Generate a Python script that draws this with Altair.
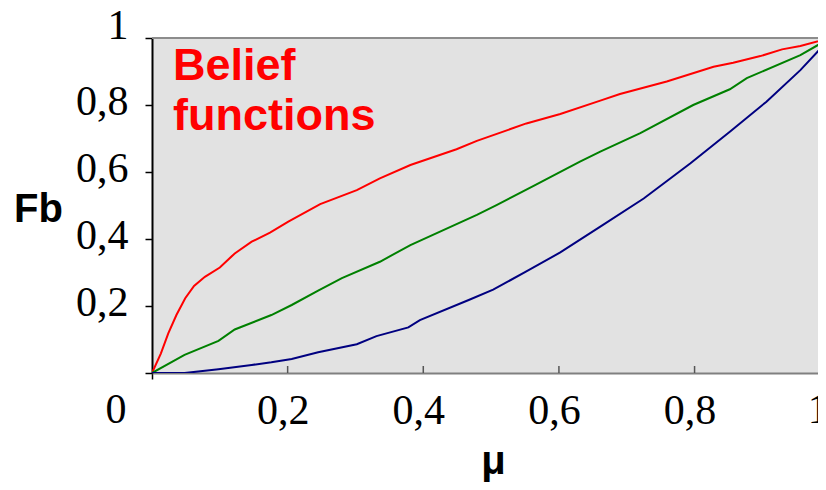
import altair as alt
import pandas as pd

# ---- data ----
mu_red = [0, 0.013, 0.024, 0.036, 0.049, 0.062, 0.078, 0.100, 0.122, 0.147, 0.174, 0.201,
          0.248, 0.302, 0.336, 0.381, 0.449, 0.479, 0.552, 0.602, 0.661, 0.690, 0.759,
          0.828, 0.857, 0.897, 0.929, 0.956, 1.0]
fb_red = [0, 0.058, 0.118, 0.173, 0.223, 0.260, 0.287, 0.315, 0.357, 0.392, 0.419, 0.452,
          0.504, 0.546, 0.581, 0.621, 0.668, 0.693, 0.745, 0.773, 0.813, 0.833, 0.870,
          0.914, 0.926, 0.946, 0.966, 0.976, 1.0]

mu_green = [0, 0.048, 0.098, 0.122, 0.176, 0.206, 0.245, 0.280, 0.336, 0.381, 0.479, 0.508,
            0.562, 0.631, 0.661, 0.720, 0.798, 0.852, 0.877, 0.956, 1.0]
fb_green = [0, 0.054, 0.096, 0.130, 0.173, 0.203, 0.246, 0.283, 0.332, 0.382, 0.472, 0.501,
            0.558, 0.631, 0.661, 0.716, 0.800, 0.847, 0.880, 0.949, 1.0]

mu_blue = [0, 0.048, 0.098, 0.147, 0.176, 0.206, 0.245, 0.302, 0.331, 0.378, 0.395, 0.467,
           0.503, 0.552, 0.602, 0.661, 0.725, 0.794, 0.852, 0.906, 0.956, 1.0]
fb_blue = [0, 0, 0.011, 0.024, 0.032, 0.042, 0.062, 0.086, 0.110, 0.136, 0.158, 0.218,
           0.249, 0.303, 0.360, 0.437, 0.521, 0.626, 0.720, 0.810, 0.904, 1.0]

series_names = ["red", "green", "blue"]
series_colors = ["#ff0000", "#008000", "#000080"]

y_ticks = [0, 0.1, 0.2, 0.3, 0.4, 0.5, 0.6, 0.7, 0.8, 0.9, 1.0]
x_ticks = [0, 0.2, 0.4, 0.6, 0.8]
x_inner_ticks = [0.2, 0.4, 0.6, 0.8]
annotation = ["Belief\nfunctions"]

frames = []
for name, mus, fbs in [("red", mu_red, fb_red), ("green", mu_green, fb_green), ("blue", mu_blue, fb_blue)]:
    frames.append(pd.DataFrame({"mu": mus, "fb": fbs, "series": name}))
df = pd.concat(frames, ignore_index=True)

# the reference picture is cropped just before mu = 1 on the right
XDOM = [0, 0.982]
xscale = alt.Scale(domain=XDOM, nice=False, zero=False)
yscale = alt.Scale(domain=[0, 1], nice=False)

label_expr_x = "datum.value == 0 ? '' : replace(format(datum.value, '.1f'), '.', ',')"
label_expr_y = ("datum.value > 0.99 ? '1' : ((round(datum.value*10) % 2 == 0 && datum.value > 0.05) ? "
                "replace(format(datum.value, '.1f'), '.', ',') : '')")

x_axis = alt.Axis(
    values=x_ticks, labelExpr=label_expr_x, grid=False,
    domainColor="#808080", domainWidth=2,
    tickSize=6, tickColor="black", tickWidth=1.5,
    tickOpacity={"condition": {"test": "datum.value == 0", "value": 1}, "value": 0},
    labelFont="Liberation Serif", labelFontSize=42, labelColor="black",
    labelPadding=11, labelOffset=-5, labelFlush=False, labelOverlap=False, labelBound=False,
    title="μ", titleFont="Liberation Sans", titleFontWeight="bold", titleFontSize=40,
    titleColor="black", titleX=341, titleY=100, titleAlign="center", titleBaseline="alphabetic",
)
y_axis = alt.Axis(
    values=y_ticks, labelExpr=label_expr_y, grid=False,
    domainColor="black", domainWidth=2,
    tickSize=7, tickColor="black", tickWidth=1.5,
    labelFont="Liberation Serif", labelFontSize=42, labelColor="black",
    labelPadding=17, labelOverlap=False, labelBound=False,
    labelBaseline={"condition": {"test": "datum.value > 0.99", "value": "alphabetic"}, "value": "middle"},
    labelOffset={"condition": {"test": "datum.value > 0.99", "value": 0}, "value": -4},
    title="Fb", titleFont="Liberation Sans", titleFontWeight="bold", titleFontSize=40,
    titleColor="black", titleAngle=0, titleX=-114, titleY=171, titleAlign="center",
    titleBaseline="middle",
)

lines = alt.Chart(df).mark_line(strokeWidth=2, clip=True).encode(
    x=alt.X("mu:Q", scale=xscale, axis=x_axis),
    y=alt.Y("fb:Q", scale=yscale, axis=y_axis),
    color=alt.Color("series:N", scale=alt.Scale(domain=series_names, range=series_colors), legend=None),
    detail="series:N",
)

top_border = alt.Chart(pd.DataFrame({"v": [1.0]})).mark_rule(color="#8c8c8c", strokeWidth=2).encode(
    y=alt.Y("v:Q", scale=yscale)
)

inner_ticks = alt.Chart(pd.DataFrame({"t": x_inner_ticks})).mark_rule(color="#555555", strokeWidth=1.5).encode(
    x=alt.X("t:Q", scale=xscale),
    y=alt.value(335),
    y2=alt.value(328),
)

zero_label = alt.Chart(pd.DataFrame({"x": [0.0], "y": [0.0], "t": ["0"]})).mark_text(
    font="Liberation Serif", fontSize=42, color="black", align="center", baseline="top", dx=-36, dy=17
).encode(x=alt.X("x:Q", scale=xscale), y=alt.Y("y:Q", scale=yscale), text="t:N")

one_label = alt.Chart(pd.DataFrame({"x": [1.0], "y": [0.0], "t": ["1"]})).mark_text(
    font="Liberation Serif", fontSize=42, color="black", align="center", baseline="top", dx=-12, dy=17
).encode(x=alt.X("x:Q", scale=xscale), y=alt.Y("y:Q", scale=yscale), text="t:N")

title_text = alt.Chart(pd.DataFrame({"t": annotation})).mark_text(
    font="Liberation Sans", fontWeight="bold", fontSize=45, color="#ff0000",
    align="left", baseline="alphabetic", lineBreak="\n", lineHeight=50
).encode(text="t:N", x=alt.value(21), y=alt.value(42))

chart = alt.layer(lines, top_border, inner_ticks, zero_label, one_label, title_text).properties(
    width=666, height=335,
    padding={"left": 144, "top": 30, "right": 0, "bottom": 109},
    autosize=alt.AutoSizeParams(type="none"),
).configure_view(fill="#e2e2e2", stroke=None)

chart.save("out.html", embed_options={"renderer": "svg", "actions": False})
